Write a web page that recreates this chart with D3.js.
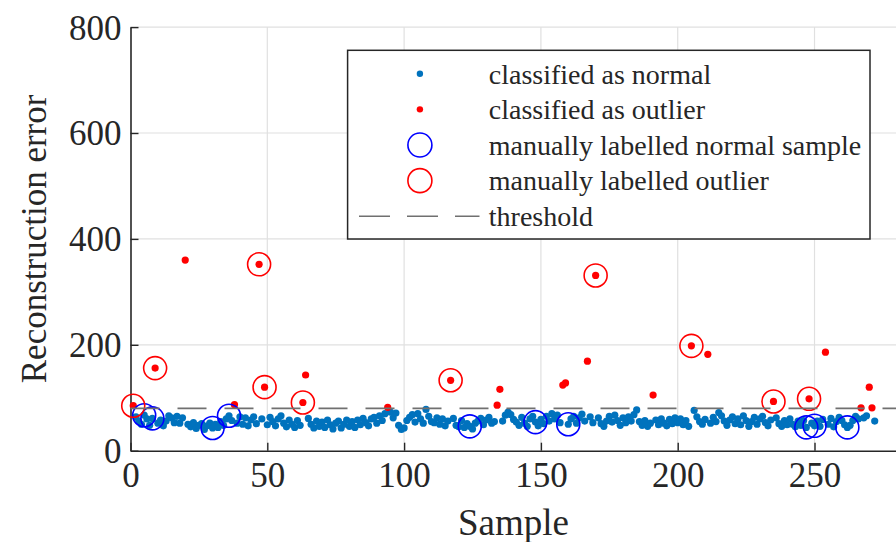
<!DOCTYPE html>
<html>
<head>
<meta charset="utf-8">
<script src="https://cdn.jsdelivr.net/npm/d3@7"></script>
<style>
  html, body { margin: 0; padding: 0; background: #ffffff; }
  svg { display: block; }
  text { font-family: "Liberation Serif", "Times New Roman", serif; fill: #262626; }
</style>
</head>
<body>
<svg id="chart" width="896" height="542"></svg>
<script>
// Reconstruction error per sample (samples 1..272)
const errors = [
  85, 64, 56, 50, 67, 60, 48, 61, 156, 52,
  58, 47, 56, 66, 62, 53, 65, 52, 62, 360,
  50, 45, 53, 42, 48, 51, 40, 47, 52, 43,
  50, 44, 55, 48, 60, 66, 57, 87, 52, 64,
  50, 62, 47, 58, 64, 51, 352, 60, 120, 49,
  63, 55, 47, 60, 66, 52, 45, 58, 50, 44,
  57, 48, 91, 143, 61, 50, 43, 56, 46, 54,
  44, 58, 49, 41, 52, 56, 43, 50, 58, 46,
  55, 44, 58, 49, 61, 53, 47, 60, 63, 52,
  66, 57, 70, 82, 73, 62, 71, 48, 40, 43,
  57, 63, 68, 54, 70, 60, 52, 78, 65, 55,
  53, 62, 50, 60, 47, 56, 133, 61, 48, 45,
  57, 44, 51, 46, 41, 52, 56, 61, 49, 58,
  63, 52, 55, 86, 116, 56, 67, 73, 68, 59,
  54, 48, 63, 52, 46, 60, 65, 54, 47, 59,
  51, 65, 56, 70, 60, 67, 53, 124, 128, 50,
  60, 65, 52, 62, 69, 56, 169, 64, 53, 331,
  62, 51, 46, 56, 65, 54, 67, 57, 48, 62,
  53, 64, 56, 68, 77, 55, 48, 57, 46, 52,
  105, 58, 49, 60, 52, 47, 59, 51, 62, 53,
  60, 49, 57, 46, 198, 76, 64, 55, 50, 59,
  182, 52, 63, 55, 72, 66, 56, 48, 58, 64,
  51, 60, 49, 66, 57, 46, 55, 63, 50, 60,
  65, 53, 47, 58, 93, 62, 51, 46, 57, 49,
  60, 50, 45, 56, 48, 57, 44, 98, 52, 47,
  56, 46, 59, 186, 50, 61, 45, 55, 63, 57,
  49, 44, 48, 57, 65, 60, 81, 62, 66, 120,
  81, 56
];

// Classification threshold on the reconstruction error
const threshold = 80;

// Samples checked by hand
const manualNormal = [5, 8, 30, 36, 124, 148, 160, 247, 250, 262];
const manualOutlier = [1, 9, 47, 49, 63, 117, 170, 205, 235, 248];

// Axes
const xDomain = [0, 280];
const yDomain = [0, 800];
const xTicks = [0, 50, 100, 150, 200, 250];
const yTicks = [0, 200, 400, 600, 800];

// Legend entries
const legendLabels = [
  "classified as normal",
  "classified as outlier",
  "manually labelled normal sample",
  "manually labelled outlier",
  "threshold"
];

const svg = d3.select("#chart");
const x = d3.scaleLinear().domain(xDomain).range([130.5, 896.6]);
const y = d3.scaleLinear().domain(yDomain).range([450.7, 27.1]);

const samples = errors.map((v, i) => ({ n: i + 1, v }));
const normal = samples.filter(d => d.v <= threshold);
const outlier = samples.filter(d => d.v > threshold);
const byN = new Map(samples.map(d => [d.n, d]));

const axisColor = "#262626";
const gridColor = "#e0e0e0";

// Grid
const grid = svg.append("g");
grid.selectAll("line.gx").data(xTicks.filter(t => t > 0)).join("line")
  .attr("x1", d => x(d)).attr("x2", d => x(d))
  .attr("y1", y(yDomain[0])).attr("y2", y(yDomain[1]))
  .attr("stroke", gridColor).attr("stroke-width", 1.2);
grid.selectAll("line.gy").data(yTicks.filter(t => t > 0)).join("line")
  .attr("y1", d => y(d)).attr("y2", d => y(d))
  .attr("x1", x(xDomain[0])).attr("x2", x(xDomain[1]))
  .attr("stroke", gridColor).attr("stroke-width", 1.2);

// Axes with inward ticks
const xAxis = svg.append("g")
  .attr("transform", `translate(0,${y(0)})`)
  .call(d3.axisBottom(x).tickValues(xTicks).tickSizeInner(-8).tickSizeOuter(0).tickPadding(13));
const yAxis = svg.append("g")
  .attr("transform", `translate(${x(0)},0)`)
  .call(d3.axisLeft(y).tickValues(yTicks).tickSizeInner(-8).tickSizeOuter(0).tickPadding(9));

[xAxis, yAxis].forEach(a => {
  a.select(".domain").attr("stroke", axisColor).attr("stroke-width", 1.6);
  a.selectAll(".tick line").attr("stroke", axisColor).attr("stroke-width", 1.4);
  a.selectAll(".tick text")
    .attr("font-family", "Liberation Serif, serif")
    .attr("font-size", 35).attr("fill", axisColor);
});
xAxis.selectAll(".tick text").attr("dy", "0.68em");
yAxis.selectAll(".tick text").attr("dy", "0.34em");

// Axis labels
svg.append("text")
  .attr("x", (x(xDomain[0]) + x(xDomain[1])) / 2).attr("y", 535)
  .attr("text-anchor", "middle").attr("font-size", 37)
  .text("Sample");
svg.append("text")
  .attr("transform", `translate(46,${(y(0) + y(800)) / 2}) rotate(-90)`)
  .attr("text-anchor", "middle").attr("font-size", 35)
  .text("Reconstruction error");

// Points
const blue = "#0072BD";
const red = "#FF0000";
const plot = svg.append("g");
plot.selectAll("circle.normal").data(normal).join("circle")
  .attr("cx", d => x(d.n)).attr("cy", d => y(d.v)).attr("r", 3.6)
  .attr("fill", blue);
plot.selectAll("circle.outlier").data(outlier).join("circle")
  .attr("cx", d => x(d.n)).attr("cy", d => y(d.v)).attr("r", 3.6)
  .attr("fill", red);
plot.selectAll("circle.mnormal").data(manualNormal.map(n => byN.get(n))).join("circle")
  .attr("cx", d => x(d.n)).attr("cy", d => y(d.v)).attr("r", 11.5)
  .attr("fill", "none").attr("stroke", "#0000FF").attr("stroke-width", 1.6);
plot.selectAll("circle.moutlier").data(manualOutlier.map(n => byN.get(n))).join("circle")
  .attr("cx", d => x(d.n)).attr("cy", d => y(d.v)).attr("r", 11.5)
  .attr("fill", "none").attr("stroke", red).attr("stroke-width", 1.6);

// Threshold line
plot.append("line")
  .attr("x1", x(xDomain[0])).attr("x2", x(xDomain[1]))
  .attr("y1", y(threshold)).attr("y2", y(threshold))
  .attr("stroke", "#707070").attr("stroke-width", 1.6)
  .attr("stroke-dasharray", "29,18");

// Legend
const lg = svg.append("g");
lg.append("rect")
  .attr("x", 347.6).attr("y", 50.3).attr("width", 522.4).attr("height", 188.7)
  .attr("fill", "#ffffff").attr("stroke", axisColor).attr("stroke-width", 1.5);
const rowY = i => 73.7 + i * 35.65;
const mx = 419.9;
lg.append("circle").attr("cx", mx).attr("cy", rowY(0)).attr("r", 3.2).attr("fill", blue);
lg.append("circle").attr("cx", mx).attr("cy", rowY(1)).attr("r", 3.2).attr("fill", red);
lg.append("circle").attr("cx", mx).attr("cy", rowY(2)).attr("r", 12)
  .attr("fill", "none").attr("stroke", "#0000FF").attr("stroke-width", 1.6);
lg.append("circle").attr("cx", mx).attr("cy", rowY(3)).attr("r", 12)
  .attr("fill", "none").attr("stroke", red).attr("stroke-width", 1.6);
lg.append("line")
  .attr("x1", 359).attr("x2", 479.5).attr("y1", rowY(4)).attr("y2", rowY(4))
  .attr("stroke", "#707070").attr("stroke-width", 1.6)
  .attr("stroke-dasharray", "31,17");
lg.selectAll("text.lab").data(legendLabels).join("text")
  .attr("x", 488.8).attr("y", (d, i) => rowY(i)).attr("dy", "0.35em")
  .attr("font-size", 28).attr("fill", "#111")
  .text(d => d);
</script>
</body>
</html>
